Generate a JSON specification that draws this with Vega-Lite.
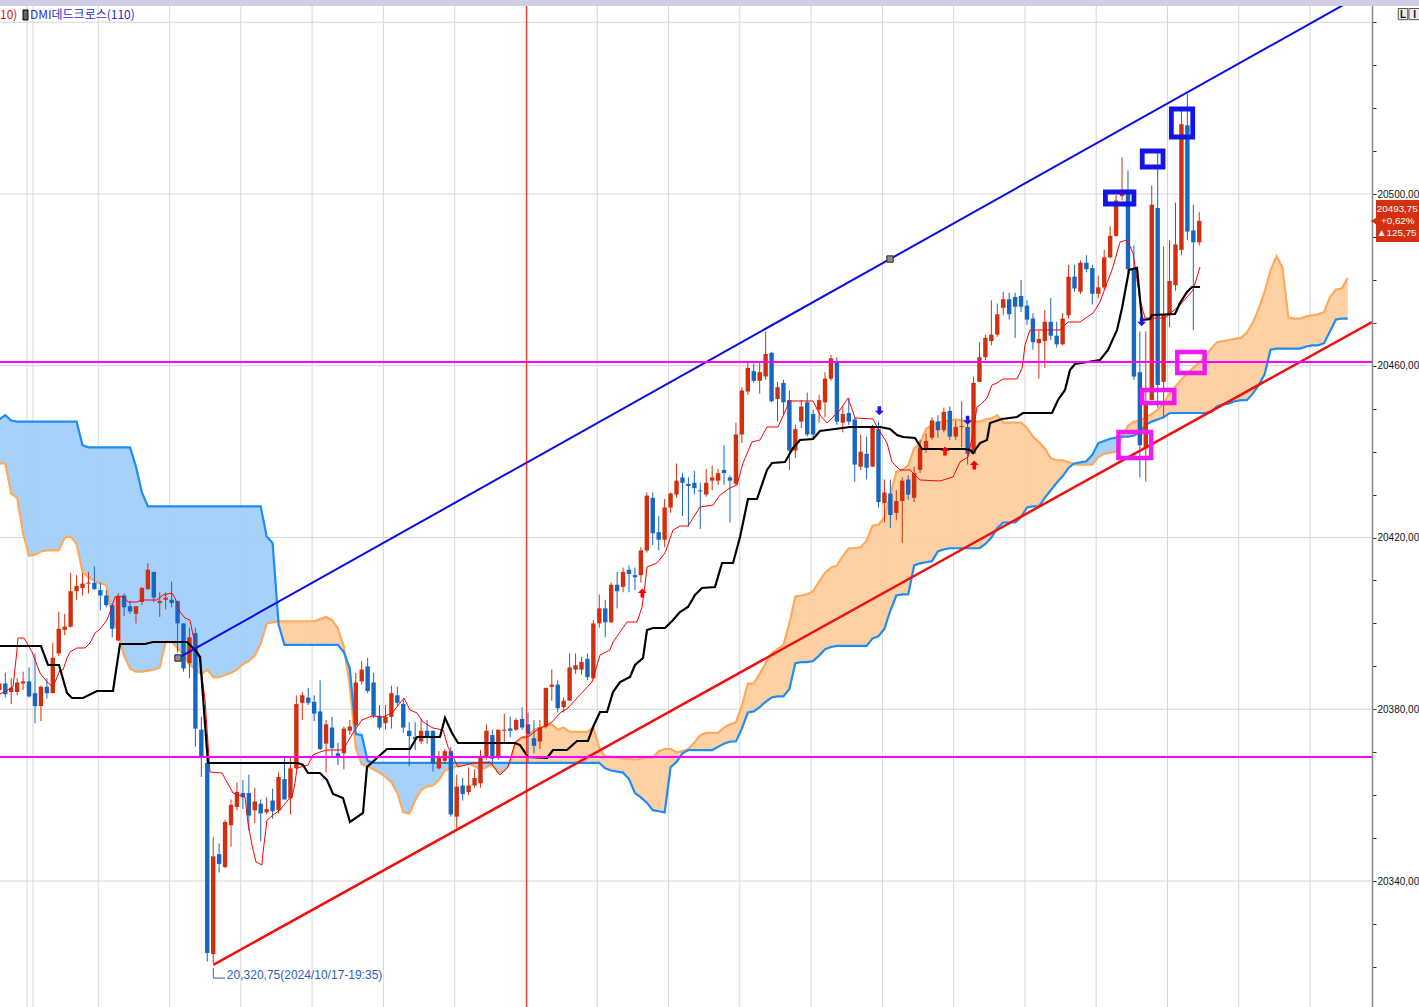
{
  "$schema": "https://vega.github.io/schema/vega-lite/v6.json",
  "description": "Candles with Ichimoku cloud, trend channel and marked boxes (DMI dead-cross study)",
  "width": 1372,
  "height": 1007,
  "autosize": {"type": "none"},
  "padding": {"left": 0, "top": 0, "right": 47, "bottom": 0},
  "background": "white",
  "config": {"view": {"stroke": null}, "scale": {"continuousPadding": 0}},
  "datasets": {
    "hgrid": [{"p": 20340}, {"p": 20380}, {"p": 20420}, {"p": 20460}, {"p": 20500}, {"p": 20540}],
    "vgrid": [{"i": 4.65}, {"i": 5.66}, {"i": 16.65}, {"i": 28.65}, {"i": 40.65}, {"i": 52.65}, {"i": 64.65}, {"i": 76.65}, {"i": 88.65}, {"i": 100.65}, {"i": 112.65}, {"i": 124.65}, {"i": 136.65}, {"i": 148.65}, {"i": 160.65}, {"i": 172.65}, {"i": 184.65}, {"i": 196.65}, {"i": 208.65}, {"i": 220.65}],
    "cloud": [
      {"i":0,"a":20437.25,"b":20447.5},{"i":1,"a":20437.25,"b":20448.5},{"i":2,"a":20430.25,"b":20447.25},{"i":3,"a":20429.25,"b":20447},{"i":4,"a":20421,"b":20447},{"i":5,"a":20415.75,"b":20447},{"i":6,"a":20416,"b":20447},{"i":7,"a":20416.75,"b":20447},{"i":8,"a":20417,"b":20447},{"i":9,"a":20417,"b":20447},
      {"i":10,"a":20417,"b":20447},{"i":11,"a":20420,"b":20447},{"i":12,"a":20420.25,"b":20447},{"i":13,"a":20418.5,"b":20447},{"i":14,"a":20412,"b":20441.5},{"i":15,"a":20410.75,"b":20441},{"i":16,"a":20410,"b":20441},{"i":17,"a":20409.25,"b":20441},{"i":18,"a":20409,"b":20441},{"i":19,"a":20402,"b":20441},
      {"i":20,"a":20397.75,"b":20441},{"i":21,"a":20392.5,"b":20441},{"i":22,"a":20389.5,"b":20441},{"i":23,"a":20388.75,"b":20436.5},{"i":24,"a":20388.75,"b":20430.5},{"i":25,"a":20389,"b":20427.25},{"i":26,"a":20389.25,"b":20427.25},{"i":27,"a":20389.75,"b":20427.25},{"i":28,"a":20395.75,"b":20427.25},{"i":29,"a":20395.75,"b":20427.25},
      {"i":30,"a":20394.25,"b":20427.25},{"i":31,"a":20392.75,"b":20427.25},{"i":32,"a":20390.5,"b":20427.25},{"i":33,"a":20389.25,"b":20427.25},{"i":34,"a":20388.25,"b":20427.25},{"i":35,"a":20389.25,"b":20427.25},{"i":36,"a":20387.5,"b":20427.25},{"i":37,"a":20387.5,"b":20427.25},{"i":38,"a":20388,"b":20427.25},{"i":39,"a":20388.5,"b":20427.25},
      {"i":40,"a":20389.25,"b":20427.25},{"i":41,"a":20390.5,"b":20427.25},{"i":42,"a":20391.25,"b":20427.25},{"i":43,"a":20392.5,"b":20427.25},{"i":44,"a":20395.25,"b":20427.25},{"i":45,"a":20400,"b":20420.25},{"i":46,"a":20400.25,"b":20418.75},{"i":46.98,"a":20400.4,"b":20400.4},{"i":47,"a":20400.5,"b":20399.75},{"i":48,"a":20400.5,"b":20395},{"i":49,"a":20400.5,"b":20395},
      {"i":50,"a":20400.5,"b":20395},{"i":51,"a":20400.5,"b":20395},{"i":52,"a":20400.5,"b":20395},{"i":53,"a":20400.5,"b":20395},{"i":54,"a":20401,"b":20395},{"i":55,"a":20401.5,"b":20395},{"i":56,"a":20400.75,"b":20395},{"i":57,"a":20398.75,"b":20395},{"i":58,"a":20394.5,"b":20393.25},{"i":58.23,"a":20392.4,"b":20392.4},{"i":59,"a":20385.5,"b":20389.5},
      {"i":60,"a":20371,"b":20374.25},{"i":61,"a":20367.25,"b":20374},{"i":62,"a":20366.75,"b":20368},{"i":63,"a":20366,"b":20367.5},{"i":64,"a":20365.25,"b":20367.5},{"i":65,"a":20364.25,"b":20367.5},{"i":66,"a":20363,"b":20367.5},{"i":67,"a":20360.5,"b":20367.5},{"i":68,"a":20356,"b":20367.5},{"i":69,"a":20355.75,"b":20367.5},
      {"i":70,"a":20358.75,"b":20367.5},{"i":71,"a":20361.25,"b":20367.5},{"i":72,"a":20362,"b":20367.5},{"i":73,"a":20362.25,"b":20367.5},{"i":74,"a":20363.5,"b":20367.5},{"i":75,"a":20365.75,"b":20367.5},{"i":76,"a":20366.25,"b":20367.5},{"i":77,"a":20366.75,"b":20367.5},{"i":78,"a":20367.25,"b":20367.5},{"i":79,"a":20367.5,"b":20367.5},
      {"i":80,"a":20366.75,"b":20367.5},{"i":81,"a":20366,"b":20367.5},{"i":82,"a":20366.5,"b":20367.5},{"i":83,"a":20367.25,"b":20367.5},{"i":84,"a":20365.25,"b":20367.5},{"i":85,"a":20365.75,"b":20367.5},{"i":85.89,"a":20367.5,"b":20367.5},{"i":86,"a":20367.75,"b":20367.5},{"i":87,"a":20372.5,"b":20367.5},{"i":88,"a":20373.25,"b":20367.5},{"i":89,"a":20373.75,"b":20367.5},
      {"i":90,"a":20375.25,"b":20367.5},{"i":91,"a":20375.75,"b":20367.5},{"i":92,"a":20376,"b":20367.5},{"i":93,"a":20376.5,"b":20367.5},{"i":94,"a":20375.25,"b":20367.5},{"i":95,"a":20375.75,"b":20367.5},{"i":96,"a":20374.75,"b":20367.5},{"i":97,"a":20374.75,"b":20367.5},{"i":98,"a":20374.75,"b":20367.5},{"i":99,"a":20374.75,"b":20367.5},
      {"i":100,"a":20375.75,"b":20367.5},{"i":101,"a":20371,"b":20367.5},{"i":102,"a":20369,"b":20366.25},{"i":103,"a":20369,"b":20365.75},{"i":104,"a":20368.75,"b":20365.5},{"i":105,"a":20368.5,"b":20365.25},{"i":106,"a":20368.5,"b":20363.75},{"i":107,"a":20368.25,"b":20360.5},{"i":108,"a":20368.5,"b":20359.5},{"i":109,"a":20368.75,"b":20358.25},
      {"i":110,"a":20368.75,"b":20356.5},{"i":111,"a":20370.25,"b":20356.25},{"i":112,"a":20370.75,"b":20356},{"i":113,"a":20370.75,"b":20366.5},{"i":114,"a":20370,"b":20367.75},{"i":115,"a":20370.25,"b":20369.75},{"i":116,"a":20370.75,"b":20370.5},{"i":117,"a":20372.25,"b":20370.5},{"i":118,"a":20374,"b":20370.5},{"i":119,"a":20374.5,"b":20370.5},
      {"i":120,"a":20374.5,"b":20370.5},{"i":121,"a":20374.5,"b":20371.25},{"i":122,"a":20375.75,"b":20372},{"i":123,"a":20376.5,"b":20372.5},{"i":124,"a":20377,"b":20372.5},{"i":125,"a":20380.75,"b":20375.5},{"i":126,"a":20386,"b":20379.25},{"i":127,"a":20386,"b":20379.5},{"i":128,"a":20388.25,"b":20380.5},{"i":129,"a":20390.75,"b":20381.75},
      {"i":130,"a":20393,"b":20382.75},{"i":131,"a":20394,"b":20383},{"i":132,"a":20395,"b":20383},{"i":133,"a":20400,"b":20384.75},{"i":134,"a":20406.25,"b":20390.75},{"i":135,"a":20406.5,"b":20391},{"i":136,"a":20406.75,"b":20391},{"i":137,"a":20407.5,"b":20391.25},{"i":138,"a":20409.75,"b":20392.5},{"i":139,"a":20411.75,"b":20394},
      {"i":140,"a":20413,"b":20394.5},{"i":141,"a":20413.5,"b":20394.75},{"i":142,"a":20415.75,"b":20394.75},{"i":143,"a":20417.5,"b":20394.75},{"i":144,"a":20417.5,"b":20394.75},{"i":145,"a":20417.75,"b":20394.75},{"i":146,"a":20419.25,"b":20394.75},{"i":147,"a":20422.75,"b":20396.5},{"i":148,"a":20423,"b":20397},{"i":149,"a":20424.75,"b":20398.75},
      {"i":150,"a":20430,"b":20403},{"i":151,"a":20435.25,"b":20406.5},{"i":152,"a":20435.75,"b":20406.75},{"i":153,"a":20436.75,"b":20406.75},{"i":154,"a":20440.75,"b":20413.5},{"i":155,"a":20442,"b":20414},{"i":156,"a":20445.25,"b":20414.25},{"i":157,"a":20446.25,"b":20414.5},{"i":158,"a":20446.75,"b":20416.75},{"i":159,"a":20447,"b":20417.25},
      {"i":160,"a":20447.25,"b":20417.5},{"i":161,"a":20447.5,"b":20417.5},{"i":162,"a":20447.25,"b":20417.5},{"i":163,"a":20447,"b":20417.5},{"i":164,"a":20447,"b":20417.5},{"i":165,"a":20447,"b":20417.5},{"i":166,"a":20447.5,"b":20418.5},{"i":167,"a":20447.75,"b":20420},{"i":168,"a":20448.5,"b":20422.25},{"i":169,"a":20446.75,"b":20423.5},
      {"i":170,"a":20446.75,"b":20423.5},{"i":171,"a":20446.75,"b":20423.5},{"i":172,"a":20446.75,"b":20424.75},{"i":173,"a":20445.5,"b":20427},{"i":174,"a":20443.5,"b":20427.25},{"i":175,"a":20442.25,"b":20427.25},{"i":176,"a":20440.75,"b":20429.25},{"i":177,"a":20438.5,"b":20431},{"i":178,"a":20438,"b":20432.75},{"i":179,"a":20438,"b":20434.25},
      {"i":180,"a":20437.5,"b":20436.25},{"i":180.86,"a":20437.2,"b":20437.2},{"i":181,"a":20437,"b":20437.25},{"i":182,"a":20437,"b":20437.5},{"i":183,"a":20437,"b":20437.75},{"i":184,"a":20437,"b":20439.25},{"i":185,"a":20438.75,"b":20442},{"i":186,"a":20439.5,"b":20442.5},{"i":187,"a":20439.75,"b":20443},{"i":188,"a":20440,"b":20443.25},{"i":189,"a":20443.5,"b":20443.5},
      {"i":190,"a":20446,"b":20443.5},{"i":191,"a":20447,"b":20443.75},{"i":192,"a":20447.25,"b":20444.5},{"i":193,"a":20448,"b":20446.25},{"i":194,"a":20448.75,"b":20447},{"i":195,"a":20449.75,"b":20447.5},{"i":196,"a":20451.25,"b":20448},{"i":197,"a":20453.5,"b":20449},{"i":198,"a":20455.25,"b":20449},{"i":199,"a":20456.75,"b":20449},
      {"i":200,"a":20458.25,"b":20449},{"i":201,"a":20459.5,"b":20449},{"i":202,"a":20460.75,"b":20449},{"i":203,"a":20462.25,"b":20449},{"i":204,"a":20464,"b":20449.25},{"i":205,"a":20465.5,"b":20450.5},{"i":206,"a":20465.75,"b":20451},{"i":207,"a":20466,"b":20451.25},{"i":208,"a":20466.25,"b":20451.75},{"i":209,"a":20466.5,"b":20452},
      {"i":210,"a":20467.75,"b":20452},{"i":211,"a":20470,"b":20453.5},{"i":212,"a":20473.25,"b":20455.5},{"i":213,"a":20477.25,"b":20458},{"i":214,"a":20482.25,"b":20463.75},{"i":215,"a":20485.5,"b":20464},{"i":216,"a":20483,"b":20464},{"i":217,"a":20471.25,"b":20464},{"i":218,"a":20471,"b":20464},{"i":219,"a":20471,"b":20464},
      {"i":220,"a":20471.5,"b":20464.5},{"i":221,"a":20471.75,"b":20464.75},{"i":222,"a":20472,"b":20464.75},{"i":223,"a":20472.5,"b":20465.25},{"i":224,"a":20476,"b":20468},{"i":225,"a":20477.75,"b":20470.75},{"i":226,"a":20478,"b":20471},{"i":227,"a":20480.5,"b":20471}
    ],
    "candles": [
      {"i":0,"o":20384.5,"h":20386.75,"l":20383.75,"c":20386},{"i":1,"o":20386,"h":20388.5,"l":20382.75,"c":20383.5},{"i":2,"o":20384,"h":20387.25,"l":20381.25,"c":20385},{"i":3,"o":20384,"h":20387.25,"l":20383.25,"c":20386.25},{"i":4,"o":20386,"h":20388.75,"l":20384.5,"c":20386.5},
      {"i":5,"o":20386.5,"h":20389.75,"l":20382.75,"c":20383},{"i":6,"o":20383.75,"h":20393,"l":20376.75,"c":20380.75},{"i":7,"o":20380.75,"h":20385.5,"l":20377.25,"c":20385.25},{"i":8,"o":20385.25,"h":20387.25,"l":20382.5,"c":20383.75},{"i":9,"o":20383.75,"h":20395.5,"l":20383.75,"c":20392},
      {"i":10,"o":20393,"h":20402.75,"l":20392.5,"c":20398.75},{"i":11,"o":20398.5,"h":20402.25,"l":20397.25,"c":20399.25},{"i":12,"o":20399.25,"h":20411.75,"l":20399,"c":20407.5},{"i":13,"o":20407.5,"h":20411.25,"l":20405.5,"c":20408.75},{"i":14,"o":20408.25,"h":20411.75,"l":20406.5,"c":20409.25},
      {"i":15,"o":20409.25,"h":20412,"l":20407,"c":20409.5},{"i":16,"o":20409.5,"h":20413.25,"l":20407.75,"c":20408},{"i":17,"o":20407.75,"h":20409.5,"l":20403,"c":20406.5},{"i":18,"o":20406.5,"h":20407.75,"l":20403.75,"c":20404.25},{"i":19,"o":20404.25,"h":20404.75,"l":20396.75,"c":20398.75},
      {"i":20,"o":20396,"h":20407,"l":20396,"c":20406.25},{"i":21,"o":20406.5,"h":20407,"l":20401.75,"c":20403.75},{"i":22,"o":20404,"h":20405.25,"l":20402.25,"c":20402.75},{"i":23,"o":20402.25,"h":20404,"l":20400,"c":20404},{"i":24,"o":20405,"h":20408.5,"l":20404.25,"c":20408.25},
      {"i":25,"o":20408,"h":20414,"l":20407.75,"c":20412.5},{"i":26,"o":20412,"h":20412,"l":20405,"c":20406},{"i":27,"o":20404.75,"h":20407.25,"l":20401.5,"c":20405.25},{"i":28,"o":20405.5,"h":20407.25,"l":20403.25,"c":20406},{"i":29,"o":20405.5,"h":20409.75,"l":20403.75,"c":20404.75},
      {"i":30,"o":20405.25,"h":20405.25,"l":20393.25,"c":20400},{"i":31,"o":20400,"h":20400,"l":20388.75,"c":20389.5},{"i":32,"o":20390.75,"h":20399,"l":20387.25,"c":20396.75},{"i":33,"o":20397.75,"h":20399,"l":20371.25,"c":20375.5},{"i":34,"o":20375.25,"h":20378.25,"l":20364.25,"c":20368.75},
      {"i":35,"o":20367.5,"h":20368.25,"l":20321.25,"c":20323.25},{"i":36,"o":20323,"h":20350.25,"l":20320.75,"c":20345.75},{"i":37,"o":20346.25,"h":20348.75,"l":20342,"c":20344},{"i":38,"o":20343.25,"h":20354.25,"l":20343,"c":20353.75},{"i":39,"o":20353,"h":20359,"l":20348,"c":20357.75},
      {"i":40,"o":20357.25,"h":20363,"l":20356.5,"c":20360.75},{"i":41,"o":20360.5,"h":20363.5,"l":20356.75,"c":20359.5},{"i":42,"o":20360.5,"h":20364.75,"l":20351.75,"c":20355.25},{"i":43,"o":20356.5,"h":20361.75,"l":20353.5,"c":20358.5},{"i":44,"o":20358,"h":20359,"l":20349.25,"c":20355.75},
      {"i":45,"o":20356,"h":20359.5,"l":20355.5,"c":20356.75},{"i":46,"o":20358.75,"h":20361.5,"l":20354.5,"c":20356.25},{"i":47,"o":20356.5,"h":20365.25,"l":20355.75,"c":20364.25},{"i":48,"o":20363.75,"h":20369,"l":20359,"c":20359},{"i":49,"o":20359.25,"h":20368.75,"l":20355.5,"c":20366.25},
      {"i":50,"o":20366.25,"h":20383.25,"l":20366,"c":20381.25},{"i":51,"o":20381.5,"h":20384,"l":20377.5,"c":20383.25},{"i":52,"o":20382.75,"h":20385,"l":20381,"c":20381.5},{"i":53,"o":20381.75,"h":20383.25,"l":20377.25,"c":20379},{"i":54,"o":20379.5,"h":20386.75,"l":20370.5,"c":20370.75},
      {"i":55,"o":20372,"h":20377.5,"l":20365.25,"c":20376.5},{"i":56,"o":20375.75,"h":20378.25,"l":20369,"c":20371},{"i":57,"o":20369.75,"h":20372.25,"l":20367,"c":20369},{"i":58,"o":20369.75,"h":20376,"l":20366,"c":20375.5},{"i":59,"o":20375,"h":20377.5,"l":20374,"c":20376},
      {"i":60,"o":20376.25,"h":20388.5,"l":20375.75,"c":20386.25},{"i":61,"o":20386.5,"h":20391.25,"l":20385.75,"c":20389.25},{"i":62,"o":20390,"h":20392,"l":20383.75,"c":20384.25},{"i":63,"o":20386.25,"h":20388.5,"l":20378,"c":20378.5},{"i":64,"o":20378.5,"h":20381,"l":20375.25,"c":20375.75},
      {"i":65,"o":20376.75,"h":20381,"l":20375.25,"c":20378.25},{"i":66,"o":20378.25,"h":20385.5,"l":20375.5,"c":20383.75},{"i":67,"o":20383.25,"h":20385.25,"l":20380.75,"c":20381.5},{"i":68,"o":20381.25,"h":20382.25,"l":20374.5,"c":20375.75},{"i":69,"o":20375,"h":20377,"l":20366.75,"c":20373.75},
      {"i":70,"o":20373.5,"h":20377,"l":20370.5,"c":20373},{"i":71,"o":20372.5,"h":20377.75,"l":20372,"c":20375},{"i":72,"o":20375,"h":20377.5,"l":20372,"c":20373.5},{"i":73,"o":20375,"h":20375,"l":20365.5,"c":20367.25},{"i":74,"o":20366.25,"h":20370.25,"l":20366,"c":20369},
      {"i":75,"o":20368,"h":20370.75,"l":20367.25,"c":20370.25},{"i":76,"o":20370.25,"h":20371.25,"l":20355,"c":20355.5},{"i":77,"o":20355,"h":20364.75,"l":20352.25,"c":20362},{"i":78,"o":20362.25,"h":20364,"l":20358.75,"c":20360.25},{"i":79,"o":20360.75,"h":20366.5,"l":20360,"c":20362.25},
      {"i":80,"o":20362.25,"h":20366,"l":20361.75,"c":20364},{"i":81,"o":20362.75,"h":20370.5,"l":20361.75,"c":20368.75},{"i":82,"o":20368.75,"h":20376.5,"l":20368.25,"c":20375},{"i":83,"o":20374,"h":20375.25,"l":20367.25,"c":20368.5},{"i":84,"o":20369,"h":20375.25,"l":20368.25,"c":20375.25},
      {"i":85,"o":20375,"h":20379,"l":20372.25,"c":20375.25},{"i":86,"o":20375.5,"h":20378.25,"l":20373.5,"c":20375},{"i":87,"o":20375.25,"h":20378,"l":20375,"c":20377.5},{"i":88,"o":20377.75,"h":20380.5,"l":20375.25,"c":20375.75},{"i":89,"o":20376.5,"h":20379.25,"l":20367.75,"c":20374.25},
      {"i":90,"o":20373.25,"h":20377.5,"l":20369.75,"c":20371.5},{"i":91,"o":20372.5,"h":20377.5,"l":20370.75,"c":20375.75},{"i":92,"o":20376,"h":20385,"l":20375.5,"c":20385},{"i":93,"o":20385.25,"h":20389.25,"l":20382,"c":20385.75},{"i":94,"o":20385.75,"h":20386.75,"l":20379.25,"c":20380.25},
      {"i":95,"o":20380.5,"h":20382.75,"l":20379.25,"c":20382},{"i":96,"o":20382,"h":20393,"l":20382,"c":20389.75},{"i":97,"o":20389.25,"h":20393,"l":20388.25,"c":20390.25},{"i":98,"o":20389.25,"h":20392.25,"l":20388,"c":20391},{"i":99,"o":20391.75,"h":20393,"l":20386.75,"c":20387.5},
      {"i":100,"o":20387.25,"h":20400.75,"l":20387,"c":20400},{"i":101,"o":20400,"h":20406.75,"l":20399,"c":20403.5},{"i":102,"o":20403.5,"h":20405.5,"l":20396.75,"c":20400.25},{"i":103,"o":20400.25,"h":20409.5,"l":20400.25,"c":20409},{"i":104,"o":20409,"h":20412,"l":20403.5,"c":20407.5},
      {"i":105,"o":20408.5,"h":20413,"l":20407.25,"c":20412},{"i":106,"o":20412.5,"h":20413.5,"l":20407.25,"c":20411.5},{"i":107,"o":20411.25,"h":20413,"l":20407.75,"c":20410.75},{"i":108,"o":20411.25,"h":20417.75,"l":20409.5,"c":20417},{"i":109,"o":20417,"h":20430.5,"l":20416.5,"c":20429.75},
      {"i":110,"o":20429.25,"h":20430.5,"l":20418.25,"c":20421},{"i":111,"o":20421.25,"h":20425,"l":20417,"c":20419.5},{"i":112,"o":20419.5,"h":20429,"l":20417.75,"c":20427},{"i":113,"o":20427,"h":20430.5,"l":20425.75,"c":20430.25},{"i":114,"o":20430,"h":20437.25,"l":20429.25,"c":20433.25},
      {"i":115,"o":20434,"h":20435,"l":20425,"c":20432.75},{"i":116,"o":20432.5,"h":20434,"l":20422.5,"c":20432},{"i":117,"o":20432.75,"h":20435.5,"l":20430,"c":20431.5},{"i":118,"o":20431,"h":20432.75,"l":20422,"c":20430.75},{"i":119,"o":20430,"h":20436,"l":20429.5,"c":20432.75},
      {"i":120,"o":20433.25,"h":20436.75,"l":20431,"c":20434},{"i":121,"o":20433.25,"h":20436,"l":20432.25,"c":20435},{"i":122,"o":20435.75,"h":20441.5,"l":20432.25,"c":20435},{"i":123,"o":20434,"h":20434.5,"l":20423.5,"c":20433.25},{"i":124,"o":20432.5,"h":20446.75,"l":20432.25,"c":20444},
      {"i":125,"o":20444,"h":20455,"l":20442,"c":20454.25},{"i":126,"o":20454,"h":20461,"l":20453.25,"c":20459.5},{"i":127,"o":20458.75,"h":20460.5,"l":20456,"c":20456.5},{"i":128,"o":20456.5,"h":20460.75,"l":20453.5,"c":20458.5},{"i":129,"o":20457.5,"h":20468,"l":20456.75,"c":20462.75},
      {"i":130,"o":20463,"h":20463.25,"l":20451.5,"c":20451.75},{"i":131,"o":20452.25,"h":20456.25,"l":20447,"c":20455},{"i":132,"o":20456,"h":20456.75,"l":20448.5,"c":20451.5},{"i":133,"o":20452,"h":20454.25,"l":20435.75,"c":20440.25},{"i":134,"o":20440.25,"h":20446.25,"l":20438.5,"c":20445.25},
      {"i":135,"o":20447,"h":20452,"l":20445.5,"c":20450.5},{"i":136,"o":20451.5,"h":20453.75,"l":20443.5,"c":20444},{"i":137,"o":20448.75,"h":20449.75,"l":20442.75,"c":20444},{"i":138,"o":20449.75,"h":20453.25,"l":20446.75,"c":20452},{"i":139,"o":20451.5,"h":20458.5,"l":20448,"c":20457},
      {"i":140,"o":20457,"h":20462.5,"l":20456.5,"c":20461.75},{"i":141,"o":20460.75,"h":20462,"l":20446.25,"c":20447},{"i":142,"o":20446.75,"h":20450.5,"l":20444.5,"c":20448.75},{"i":143,"o":20449,"h":20452.5,"l":20446.25,"c":20447},{"i":144,"o":20447.5,"h":20448,"l":20433,"c":20437},
      {"i":145,"o":20436.5,"h":20444,"l":20435.75,"c":20440},{"i":146,"o":20439.5,"h":20443.5,"l":20433.5,"c":20436.25},{"i":147,"o":20436.5,"h":20446.25,"l":20436.5,"c":20445.75},{"i":148,"o":20445.25,"h":20447,"l":20427,"c":20428.25},{"i":149,"o":20428,"h":20433.5,"l":20423.5,"c":20430.5},
      {"i":150,"o":20430.25,"h":20433.5,"l":20422.25,"c":20425.25},{"i":151,"o":20425.75,"h":20431,"l":20424,"c":20428.5},{"i":152,"o":20428.5,"h":20434,"l":20418.75,"c":20433.25},{"i":153,"o":20433.5,"h":20434.5,"l":20428.75,"c":20430},{"i":154,"o":20429.25,"h":20436.5,"l":20428.25,"c":20435},
      {"i":155,"o":20435.75,"h":20442.75,"l":20435,"c":20441},{"i":156,"o":20440.75,"h":20444.25,"l":20439.75,"c":20442.5},{"i":157,"o":20443.25,"h":20448,"l":20442.75,"c":20447.25},{"i":158,"o":20447,"h":20448.5,"l":20443.25,"c":20445},{"i":159,"o":20445,"h":20450.25,"l":20444.5,"c":20449.25},
      {"i":160,"o":20449.5,"h":20450.5,"l":20442.75,"c":20443.5},{"i":161,"o":20443.5,"h":20447.25,"l":20442.75,"c":20445.75},{"i":162,"o":20445.75,"h":20451.75,"l":20441,"c":20446},{"i":163,"o":20445.75,"h":20448,"l":20437,"c":20439.5},{"i":164,"o":20439.5,"h":20457.5,"l":20439.5,"c":20456},
      {"i":165,"o":20456.25,"h":20465.5,"l":20456.25,"c":20462},{"i":166,"o":20462,"h":20467.25,"l":20461.25,"c":20466.5},{"i":167,"o":20465.75,"h":20475.25,"l":20464.75,"c":20467.25},{"i":168,"o":20467.25,"h":20474.5,"l":20466.75,"c":20472},{"i":169,"o":20473.5,"h":20477.25,"l":20471.75,"c":20475.5},
      {"i":170,"o":20475.5,"h":20477,"l":20470.75,"c":20472},{"i":171,"o":20476,"h":20477,"l":20466.5,"c":20473.75},{"i":172,"o":20476.25,"h":20480,"l":20472.5,"c":20473.75},{"i":173,"o":20474,"h":20475.25,"l":20469.5,"c":20470.75},{"i":174,"o":20471,"h":20472.25,"l":20463.75,"c":20465.5},
      {"i":175,"o":20465.25,"h":20468.25,"l":20457,"c":20466.25},{"i":176,"o":20465.75,"h":20473,"l":20459.5,"c":20470.25},{"i":177,"o":20470.25,"h":20475.75,"l":20466,"c":20467},{"i":178,"o":20467,"h":20470.25,"l":20464.25,"c":20465},{"i":179,"o":20465,"h":20472.25,"l":20464.75,"c":20471},
      {"i":180,"o":20471.75,"h":20483.5,"l":20471,"c":20480.75},{"i":181,"o":20480.75,"h":20483.5,"l":20477.25,"c":20478},{"i":182,"o":20477.25,"h":20484.5,"l":20476.75,"c":20484},{"i":183,"o":20484,"h":20485.75,"l":20481.75,"c":20482.5},{"i":184,"o":20482.75,"h":20483.5,"l":20474.25,"c":20476.75},
      {"i":185,"o":20476.75,"h":20481,"l":20475.75,"c":20478.25},{"i":186,"o":20478.25,"h":20487,"l":20477.75,"c":20485.25},{"i":187,"o":20485.25,"h":20492.5,"l":20485,"c":20490.25},{"i":188,"o":20490.25,"h":20499.75,"l":20490,"c":20498.5},{"i":189,"o":20499.5,"h":20508.5,"l":20498.5,"c":20501},
      {"i":190,"o":20501,"h":20505.5,"l":20481.75,"c":20482.5},{"i":191,"o":20482.5,"h":20488,"l":20456.75,"c":20457.5},{"i":192,"o":20458.5,"h":20468,"l":20434,"c":20441.5},{"i":193,"o":20440.75,"h":20468,"l":20433,"c":20451.5},{"i":194,"o":20452,"h":20502,"l":20452,"c":20497.5},
      {"i":195,"o":20496.75,"h":20510.25,"l":20450.25,"c":20455.5},{"i":196,"o":20456.25,"h":20487.75,"l":20448,"c":20472},{"i":197,"o":20472,"h":20489.25,"l":20469,"c":20479.75},{"i":198,"o":20478.75,"h":20498,"l":20477.5,"c":20488.25},{"i":199,"o":20487,"h":20519.5,"l":20485.75,"c":20516.25},
      {"i":200,"o":20516,"h":20523.25,"l":20489.25,"c":20491.25},{"i":201,"o":20491.5,"h":20497.5,"l":20468.25,"c":20488.75},{"i":202,"o":20488.75,"h":20495.75,"l":20488,"c":20493.75}
    ],
    "tenkan": [
      {"i":0.11,"p":20383.56},{"i":2.3,"p":20385.19},{"i":2.97,"p":20393.81},{"i":3.14,"p":20396.6},{"i":4.15,"p":20396.6},{"i":4.65,"p":20395.44},{"i":5.49,"p":20393.35},{"i":6.84,"p":20388.45},{"i":8.02,"p":20386.35},{"i":9.03,"p":20385.19},
      {"i":10.21,"p":20389.15},{"i":10.71,"p":20389.15},{"i":11.39,"p":20391.94},{"i":11.89,"p":20393.35},{"i":13.07,"p":20394.28},{"i":14.42,"p":20394.28},{"i":15.26,"p":20395.44},{"i":16.1,"p":20397.76},{"i":16.94,"p":20398.69},{"i":18.12,"p":20400.79},
      {"i":18.63,"p":20402.66},{"i":19.47,"p":20406.15},{"i":19.97,"p":20406.38},{"i":20.98,"p":20406.15},{"i":21.66,"p":20404.99},{"i":23.17,"p":20404.99},{"i":24.01,"p":20405.45},{"i":26.54,"p":20405.45},{"i":27.55,"p":20406.62},{"i":29.06,"p":20407.08},
      {"i":29.57,"p":20405.92},{"i":30.41,"p":20402.66},{"i":31.25,"p":20401.26},{"i":32.09,"p":20400.79},{"i":32.6,"p":20397.3},{"i":33.27,"p":20393.81},{"i":33.78,"p":20391.48},{"i":34.62,"p":20382.16},{"i":35.46,"p":20365.39},{"i":37.48,"p":20365.16},
      {"i":39.33,"p":20360.5},{"i":41.35,"p":20359.57},{"i":41.86,"p":20353.52},{"i":42.53,"p":20348.4},{"i":43.21,"p":20344.44},{"i":44.21,"p":20343.74},{"i":44.38,"p":20346.53},{"i":45.06,"p":20354.22},{"i":46.07,"p":20355.38},{"i":47.25,"p":20356.55},
      {"i":48.59,"p":20358.87},{"i":49.27,"p":20359.57},{"i":49.77,"p":20362.84},{"i":50.11,"p":20366.32},{"i":51.96,"p":20367.03},{"i":52.8,"p":20369.36},{"i":53.98,"p":20370.05},{"i":55.16,"p":20370.52},{"i":57.85,"p":20370.52},{"i":59.53,"p":20374.48},
      {"i":61.05,"p":20377.51},{"i":62.73,"p":20378.44},{"i":64.58,"p":20378.2},{"i":66.27,"p":20379.37},{"i":68.12,"p":20382.63},{"i":69.13,"p":20379.83},{"i":70.31,"p":20379.14},{"i":71.32,"p":20377.04},{"i":73.0,"p":20375.64},{"i":74.69,"p":20375.18},
      {"i":75.53,"p":20371.22},{"i":77.21,"p":20366.56},{"i":79.74,"p":20367.49},{"i":82.6,"p":20367.73},{"i":84.28,"p":20364.7},{"i":85.63,"p":20366.56},{"i":86.81,"p":20372.15},{"i":87.99,"p":20373.55},{"i":88.99,"p":20373.55},{"i":90.51,"p":20375.18},
      {"i":91.52,"p":20375.87},{"i":93.04,"p":20377.04},{"i":94.38,"p":20379.14},{"i":95.73,"p":20380.3},{"i":97.24,"p":20382.63},{"i":99.77,"p":20386.35},{"i":101.12,"p":20392.64},{"i":102.8,"p":20393.81},{"i":103.31,"p":20395.67},{"i":104.49,"p":20398.0},
      {"i":105.66,"p":20400.33},{"i":107.35,"p":20400.33},{"i":108.19,"p":20403.82},{"i":108.69,"p":20408.94},{"i":109.03,"p":20413.14},{"i":110.71,"p":20414.07},{"i":112.06,"p":20416.4},{"i":113.41,"p":20421.75},{"i":114.59,"p":20422.68},{"i":115.93,"p":20422.68},
      {"i":117.95,"p":20427.1},{"i":120.14,"p":20427.57},{"i":121.32,"p":20429.9},{"i":123.0,"p":20431.54},{"i":124.18,"p":20432.23},{"i":125.19,"p":20437.36},{"i":126.71,"p":20442.25},{"i":128.05,"p":20442.71},{"i":129.23,"p":20445.74},{"i":131.08,"p":20445.74},
      {"i":132.6,"p":20450.4},{"i":132.77,"p":20451.8},{"i":136.98,"p":20451.8},{"i":138.15,"p":20448.54},{"i":139.33,"p":20446.67},{"i":141.52,"p":20449.7},{"i":142.87,"p":20452.49},{"i":144.05,"p":20447.84},{"i":147.08,"p":20447.6},{"i":147.75,"p":20445.74},
      {"i":149.44,"p":20442.01},{"i":150.28,"p":20437.59},{"i":151.62,"p":20435.73},{"i":153.31,"p":20435.73},{"i":154.99,"p":20433.4},{"i":158.36,"p":20433.17},{"i":160.54,"p":20434.1},{"i":161.72,"p":20437.59},{"i":163.07,"p":20438.75},{"i":163.91,"p":20444.34},
      {"i":164.58,"p":20450.4},{"i":165.09,"p":20450.86},{"i":166.27,"p":20452.49},{"i":167.11,"p":20455.52},{"i":167.95,"p":20455.98},{"i":168.96,"p":20456.92},{"i":171.32,"p":20456.92},{"i":172.18,"p":20459.48},{"i":172.67,"p":20464.84},{"i":173.51,"p":20468.33},
      {"i":178.56,"p":20468.33},{"i":179.91,"p":20470.19},{"i":181.93,"p":20470.19},{"i":184.12,"p":20472.29},{"i":185.29,"p":20474.85},{"i":186.47,"p":20479.27},{"i":187.48,"p":20483.0},{"i":188.66,"p":20488.82},{"i":189.84,"p":20489.29},{"i":190.85,"p":20486.26},
      {"i":192.03,"p":20475.31},{"i":192.87,"p":20471.12},{"i":196.24,"p":20471.12},{"i":198.76,"p":20474.15},{"i":200.95,"p":20477.64},{"i":202.13,"p":20482.99}
    ],
    "kijun": [
      {"i":0.11,"p":20394.74},{"i":7.01,"p":20394.74},{"i":8.19,"p":20390.32},{"i":10.04,"p":20390.32},{"i":11.39,"p":20383.79},{"i":12.23,"p":20382.63},{"i":14.08,"p":20382.63},{"i":16.44,"p":20384.26},{"i":19.13,"p":20384.26},{"i":20.31,"p":20395.21},
      {"i":24.52,"p":20395.21},{"i":25.87,"p":20395.67},{"i":31.59,"p":20395.67},{"i":32.94,"p":20393.81},{"i":33.78,"p":20392.18},{"i":35.12,"p":20367.49},{"i":50.28,"p":20367.49},{"i":51.12,"p":20367.03},{"i":51.96,"p":20365.16},{"i":53.98,"p":20365.16},
      {"i":55.16,"p":20363.53},{"i":56.17,"p":20360.27},{"i":57.85,"p":20359.34},{"i":59.03,"p":20353.75},{"i":61.22,"p":20355.85},{"i":61.89,"p":20366.56},{"i":63.74,"p":20368.89},{"i":65.26,"p":20370.75},{"i":69.13,"p":20370.75},{"i":70.31,"p":20373.55},
      {"i":74.18,"p":20373.55},{"i":75.02,"p":20377.97},{"i":76.2,"p":20374.48},{"i":77.21,"p":20372.15},{"i":86.81,"p":20372.15},{"i":87.65,"p":20371.68},{"i":88.99,"p":20368.89},{"i":92.2,"p":20368.66},{"i":93.2,"p":20370.52},{"i":95.56,"p":20370.52},
      {"i":97.24,"p":20372.62},{"i":99.1,"p":20372.62},{"i":99.94,"p":20375.87},{"i":101.12,"p":20379.37},{"i":102.3,"p":20379.37},{"i":103.31,"p":20384.03},{"i":104.49,"p":20386.35},{"i":106.17,"p":20387.52},{"i":107.01,"p":20390.32},{"i":108.36,"p":20391.94},
      {"i":109.03,"p":20398.46},{"i":110.04,"p":20398.93},{"i":112.06,"p":20398.93},{"i":113.41,"p":20400.79},{"i":114.58,"p":20402.66},{"i":115.93,"p":20403.82},{"i":117.11,"p":20406.62},{"i":118.29,"p":20408.25},{"i":120.48,"p":20408.48},{"i":121.66,"p":20414.07},
      {"i":123.51,"p":20414.07},{"i":124.69,"p":20420.12},{"i":126.03,"p":20428.97},{"i":127.55,"p":20428.97},{"i":129.23,"p":20435.73},{"i":130.07,"p":20437.36},{"i":132.26,"p":20437.59},{"i":133.61,"p":20440.85},{"i":134.79,"p":20442.71},{"i":136.98,"p":20442.94},
      {"i":138.15,"p":20444.81},{"i":143.2,"p":20445.74},{"i":148.25,"p":20445.74},{"i":149.94,"p":20445.27},{"i":151.12,"p":20443.88},{"i":152.13,"p":20443.41},{"i":154.14,"p":20443.18},{"i":155.33,"p":20440.62},{"i":162.57,"p":20440.62},{"i":163.41,"p":20440.38},
      {"i":163.91,"p":20439.68},{"i":165.09,"p":20442.01},{"i":166.27,"p":20442.71},{"i":166.77,"p":20446.67},{"i":168.79,"p":20447.6},{"i":171.32,"p":20448.07},{"i":172.33,"p":20449.0},{"i":177.21,"p":20449.0},{"i":178.22,"p":20452.03},{"i":179.4,"p":20454.36},
      {"i":180.24,"p":20459.01},{"i":181.08,"p":20460.41},{"i":185.29,"p":20461.34},{"i":186.64,"p":20463.67},{"i":188.16,"p":20468.33},{"i":189.0,"p":20473.45},{"i":190.18,"p":20482.3},{"i":191.52,"p":20482.77},{"i":192.36,"p":20470.66},{"i":193.71,"p":20470.89},
      {"i":194.05,"p":20471.82},{"i":197.92,"p":20472.06},{"i":198.76,"p":20474.62},{"i":199.94,"p":20477.18},{"i":200.78,"p":20478.34},{"i":202.13,"p":20478.34}
    ],
    "upperTrend": [{"i": 30.07, "p": 20391.94}, {"i": 231.08, "p": 20547.76}],
    "lowerTrend": [{"i": 36.02, "p": 20320.5}, {"i": 231.08, "p": 20470.19}],
    "levels": [{"p": 20460.85}, {"p": 20368.9}],
    "anchors": [{"i": 30.07, "p": 20391.94}, {"i": 149.94, "p": 20484.86}],
    "boxesBlue": [
      {"i1": 186.2, "i2": 191.0, "p1": 20497.67, "p2": 20500.47},
      {"i1": 192.4, "i2": 195.9, "p1": 20506.29, "p2": 20510.02},
      {"i1": 197.3, "i2": 200.9, "p1": 20513.27, "p2": 20519.8}
    ],
    "boxesPink": [
      {"i1": 188.4, "i2": 193.9, "p1": 20438.52, "p2": 20444.57},
      {"i1": 192.4, "i2": 197.8, "p1": 20451.33, "p2": 20454.36},
      {"i1": 198.3, "i2": 202.9, "p1": 20458.31, "p2": 20463.21}
    ],
    "buySignals": [{"i": 108.24, "p": 20407.08}, {"i": 159.2, "p": 20440.15}, {"i": 164.13, "p": 20436.89}],
    "sellSignals": [{"i": 148.14, "p": 20449.54}, {"i": 163.0, "p": 20447.3}, {"i": 192.3, "p": 20470.26}],
    "lowMark": [{"k": 0, "i": 36.02, "p": 20319.75}, {"k": 1, "i": 36.02, "p": 20317.4}, {"k": 2, "i": 37.99, "p": 20317.4}],
    "lowLabel": [{"i": 38.3, "p": 20318.1, "t": "20,320,75(2024/10/17-19:35)"}],
    "header": [
      {"i": 0.11, "p": 20541.7, "t": "10)", "g": "a"},
      {"i": 5.16, "p": 20541.7, "t": "DMI데드크로스(110)", "g": "b"}
    ],
    "priceTag": [
      {"i": 231.9, "p": 20496.45, "t": "20493,75"},
      {"i": 232.6, "p": 20493.6, "t": "+0,62%"},
      {"i": 231.9, "p": 20490.85, "t": "▲125,75"}
    ]
  },
  "layer": [
    {
      "data": {"name": "hgrid"},
      "mark": {"type": "rule", "color": "#d6d6d6", "strokeWidth": 1},
      "encoding": {
        "y": {
          "field": "p", "type": "quantitative",
          "scale": {"domain": [20310.67, 20545.18], "nice": false, "zero": false, "padding": 0},
          "axis": {
            "orient": "right", "title": null, "grid": false,
            "values": [20320, 20330, 20340, 20350, 20360, 20370, 20380, 20390, 20400, 20410, 20420, 20430, 20440, 20450, 20460, 20470, 20480, 20490, 20500, 20510, 20520, 20530, 20540],
            "labelExpr": "(datum.value % 40 == 20 && datum.value <= 20500) ? replace(format(datum.value, '.2f'), '.', ',') : ''",
            "domainColor": "#8a8a8a", "domainWidth": 1.5,
            "tickColor": "#333333", "tickSize": 4, "tickWidth": 1,
            "labelFont": "Liberation Sans", "labelFontSize": 10, "labelColor": "#111111",
            "labelPadding": 1, "labelAlign": "left", "labelBaseline": "middle",
            "labelOverlap": false, "labelBound": false, "labelFlush": false
          }
        }
      }
    },
    {
      "data": {"name": "vgrid"},
      "mark": {"type": "rule", "color": "#d6d6d6", "strokeWidth": 1},
      "encoding": {
        "x": {"field": "i", "type": "quantitative", "scale": {"domain": [0.1077, 231.08], "nice": false, "zero": false, "padding": 0}, "axis": null}
      }
    },
    {
      "data": {"name": "cloud"},
      "transform": [{"filter": "datum.a >= datum.b"}],
      "mark": {"type": "area", "color": "#fdcd9c", "opacity": 0.92},
      "encoding": {
        "x": {"field": "i", "type": "quantitative", "axis": null},
        "y": {"field": "a", "type": "quantitative"},
        "y2": {"field": "b"}
      }
    },
    {
      "data": {"name": "cloud"},
      "transform": [{"filter": "datum.b >= datum.a"}],
      "mark": {"type": "area", "color": "#9dcdfa", "opacity": 0.92},
      "encoding": {
        "x": {"field": "i", "type": "quantitative", "axis": null},
        "y": {"field": "b", "type": "quantitative"},
        "y2": {"field": "a"}
      }
    },
    {
      "data": {"name": "cloud"},
      "mark": {"type": "line", "color": "#ffa95c", "strokeWidth": 2.2},
      "encoding": {
        "x": {"field": "i", "type": "quantitative", "axis": null},
        "y": {"field": "a", "type": "quantitative"}
      }
    },
    {
      "data": {"name": "cloud"},
      "mark": {"type": "line", "color": "#1e8cf5", "strokeWidth": 2.2},
      "encoding": {
        "x": {"field": "i", "type": "quantitative", "axis": null},
        "y": {"field": "b", "type": "quantitative"}
      }
    },
    {
      "data": {"name": "candles"},
      "mark": {"type": "rule", "strokeWidth": 1},
      "encoding": {
        "x": {"field": "i", "type": "quantitative", "axis": null},
        "y": {"field": "l", "type": "quantitative"},
        "y2": {"field": "h"},
        "color": {"condition": {"test": "datum.c >= datum.o", "value": "#d22f0e"}, "value": "#1766c2"}
      }
    },
    {
      "data": {"name": "candles"},
      "mark": {"type": "bar", "size": 4.4},
      "encoding": {
        "x": {"field": "i", "type": "quantitative", "axis": null},
        "y": {"field": "o", "type": "quantitative"},
        "y2": {"field": "c"},
        "color": {"condition": {"test": "datum.c >= datum.o", "value": "#d22f0e"}, "value": "#1766c2"}
      }
    },
    {
      "data": {"name": "tenkan"},
      "mark": {"type": "line", "color": "#ff0000", "strokeWidth": 1},
      "encoding": {
        "x": {"field": "i", "type": "quantitative", "axis": null},
        "y": {"field": "p", "type": "quantitative"}
      }
    },
    {
      "data": {"name": "kijun"},
      "mark": {"type": "line", "color": "#000000", "strokeWidth": 2.2},
      "encoding": {
        "x": {"field": "i", "type": "quantitative", "axis": null},
        "y": {"field": "p", "type": "quantitative"}
      }
    },
    {
      "data": {"name": "upperTrend"},
      "mark": {"type": "line", "color": "#0a0ae6", "strokeWidth": 2, "clip": true},
      "encoding": {
        "x": {"field": "i", "type": "quantitative", "axis": null},
        "y": {"field": "p", "type": "quantitative"}
      }
    },
    {
      "data": {"name": "lowerTrend"},
      "mark": {"type": "line", "color": "#f01010", "strokeWidth": 2.5, "clip": true},
      "encoding": {
        "x": {"field": "i", "type": "quantitative", "axis": null},
        "y": {"field": "p", "type": "quantitative"}
      }
    },
    {
      "data": {"name": "levels"},
      "mark": {"type": "rule", "color": "#ff00ff", "strokeWidth": 2},
      "encoding": {
        "y": {"field": "p", "type": "quantitative"}
      }
    },
    {
      "data": {"values": [{"i": 88.78}]},
      "mark": {"type": "rule", "color": "#ff0000", "strokeWidth": 1},
      "encoding": {
        "x": {"field": "i", "type": "quantitative", "axis": null}
      }
    },
    {
      "data": {"name": "anchors"},
      "mark": {"type": "square", "size": 40, "filled": true, "fill": "#8c8c8c", "stroke": "#222222", "strokeWidth": 1, "opacity": 1},
      "encoding": {
        "x": {"field": "i", "type": "quantitative", "axis": null},
        "y": {"field": "p", "type": "quantitative"}
      }
    },
    {
      "data": {"name": "boxesBlue"},
      "mark": {"type": "rect", "filled": false, "stroke": "#1414e6", "strokeWidth": 4.8},
      "encoding": {
        "x": {"field": "i1", "type": "quantitative", "axis": null},
        "x2": {"field": "i2"},
        "y": {"field": "p1", "type": "quantitative"},
        "y2": {"field": "p2"}
      }
    },
    {
      "data": {"name": "boxesPink"},
      "mark": {"type": "rect", "filled": false, "stroke": "#f01af0", "strokeWidth": 4.5},
      "encoding": {
        "x": {"field": "i1", "type": "quantitative", "axis": null},
        "x2": {"field": "i2"},
        "y": {"field": "p1", "type": "quantitative"},
        "y2": {"field": "p2"}
      }
    },
    {
      "data": {"name": "buySignals"},
      "mark": {"type": "point", "shape": "M0,-1L1,0L0.4,0L0.4,1L-0.4,1L-0.4,0L-1,0Z", "filled": true, "color": "#ff0000", "size": 80, "opacity": 1},
      "encoding": {
        "x": {"field": "i", "type": "quantitative", "axis": null},
        "y": {"field": "p", "type": "quantitative"}
      }
    },
    {
      "data": {"name": "sellSignals"},
      "mark": {"type": "point", "shape": "M0,1L1,0L0.4,0L0.4,-1L-0.4,-1L-0.4,0L-1,0Z", "filled": true, "color": "#1a1ae6", "size": 80, "opacity": 1},
      "encoding": {
        "x": {"field": "i", "type": "quantitative", "axis": null},
        "y": {"field": "p", "type": "quantitative"}
      }
    },
    {
      "data": {"name": "lowMark"},
      "mark": {"type": "line", "color": "#2d5fbe", "strokeWidth": 1},
      "encoding": {
        "x": {"field": "i", "type": "quantitative", "axis": null},
        "y": {"field": "p", "type": "quantitative"},
        "order": {"field": "k"}
      }
    },
    {
      "data": {"name": "lowLabel"},
      "mark": {"type": "text", "align": "left", "baseline": "middle", "font": "Liberation Sans", "fontSize": 12, "color": "#2d5fbe"},
      "encoding": {
        "x": {"field": "i", "type": "quantitative", "axis": null},
        "y": {"field": "p", "type": "quantitative"},
        "text": {"field": "t"}
      }
    },
    {
      "data": {"values": [{"i1": -2, "i2": 245, "p1": 20543.78, "p2": 20548}]},
      "mark": {"type": "rect", "color": "#d0cde4"},
      "encoding": {
        "x": {"field": "i1", "type": "quantitative", "axis": null},
        "x2": {"field": "i2"},
        "y": {"field": "p1", "type": "quantitative"},
        "y2": {"field": "p2"}
      }
    },
    {
      "data": {"values": [{"i1": 3.98, "i2": 4.82, "p1": 20540.52, "p2": 20542.85}]},
      "mark": {"type": "rect", "color": "#666666", "stroke": "#000000", "strokeWidth": 1},
      "encoding": {
        "x": {"field": "i1", "type": "quantitative", "axis": null},
        "x2": {"field": "i2"},
        "y": {"field": "p1", "type": "quantitative"},
        "y2": {"field": "p2"}
      }
    },
    {
      "data": {"name": "header"},
      "mark": {"type": "text", "align": "left", "baseline": "middle", "font": "Noto Sans CJK KR", "fontSize": 12},
      "encoding": {
        "x": {"field": "i", "type": "quantitative", "axis": null},
        "y": {"field": "p", "type": "quantitative"},
        "text": {"field": "t"},
        "color": {"field": "g", "type": "nominal", "scale": {"domain": ["a", "b"], "range": ["#e01010", "#1a2fd6"]}, "legend": null}
      }
    },
    {
      "data": {"values": [{"i1": 231.75, "i2": 241, "p1": 20488.82, "p2": 20498.6}]},
      "mark": {"type": "rect", "color": "#d32f10"},
      "encoding": {
        "x": {"field": "i1", "type": "quantitative", "axis": null},
        "x2": {"field": "i2"},
        "y": {"field": "p1", "type": "quantitative"},
        "y2": {"field": "p2"}
      }
    },
    {
      "data": {"values": [{"i": 231.7, "p": 20493.7}]},
      "mark": {"type": "point", "shape": "triangle-left", "filled": true, "color": "#d32f10", "size": 140, "opacity": 1},
      "encoding": {
        "x": {"field": "i", "type": "quantitative", "axis": null},
        "y": {"field": "p", "type": "quantitative"}
      }
    },
    {
      "data": {"name": "priceTag"},
      "mark": {"type": "text", "align": "left", "baseline": "middle", "font": "Liberation Sans", "fontSize": 9.8, "color": "#ffffff"},
      "encoding": {
        "x": {"field": "i", "type": "quantitative", "axis": null},
        "y": {"field": "p", "type": "quantitative"},
        "text": {"field": "t"}
      }
    },
    {
      "data": {"values": [{"i1": 235.5, "i2": 237.1, "p1": 20540.6, "p2": 20543.2, "t": "L", "im": 236.3}, {"i1": 237.3, "i2": 239.2, "p1": 20540.6, "p2": 20543.2, "t": "I", "im": 238.25}]},
      "layer": [
        {
          "mark": {"type": "rect", "color": "#ececec", "stroke": "#555555", "strokeWidth": 1},
          "encoding": {
            "x": {"field": "i1", "type": "quantitative", "axis": null},
            "x2": {"field": "i2"},
            "y": {"field": "p1", "type": "quantitative"},
            "y2": {"field": "p2"}
          }
        },
        {
          "mark": {"type": "text", "align": "center", "baseline": "bottom", "font": "Liberation Sans", "fontSize": 10, "fontWeight": "bold", "color": "#111111"},
          "encoding": {
            "x": {"field": "im", "type": "quantitative", "axis": null},
            "y": {"field": "p1", "type": "quantitative"},
            "text": {"field": "t"}
          }
        }
      ]
    }
  ]
}
